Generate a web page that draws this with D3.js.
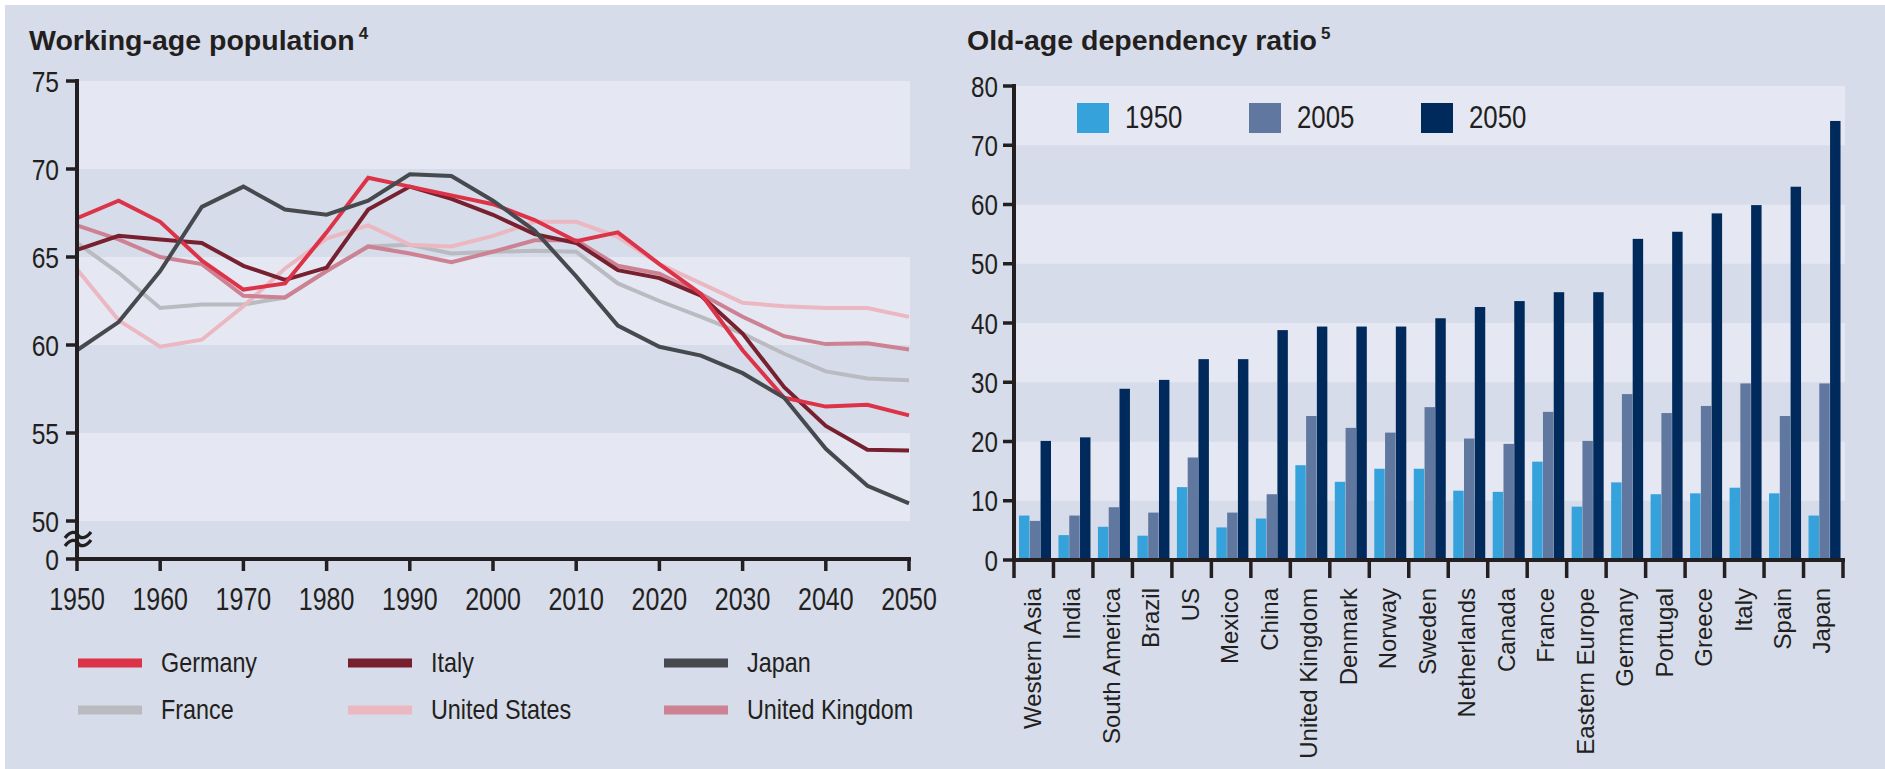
<!DOCTYPE html>
<html><head><meta charset="utf-8">
<script src="https://cdn.jsdelivr.net/npm/d3@7"></script>
<style>
html,body{margin:0;padding:0;background:#fff;}
svg{display:block;}
</style></head>
<body>
<script>
// ---------- DATA ----------
const years = [1950,1955,1960,1965,1970,1975,1980,1985,1990,1995,2000,2005,2010,2015,2020,2025,2030,2035,2040,2045,2050];
const germany = [67.2,68.2,67.0,64.8,63.15,63.5,66.4,69.5,69.0,68.5,68.0,67.1,65.9,66.4,64.6,62.9,59.7,57.0,56.5,56.6,56.0];
const italy   = [65.4,66.2,66.0,65.8,64.5,63.7,64.4,67.7,69.0,68.3,67.4,66.3,65.8,64.25,63.8,62.8,60.65,57.6,55.4,54.05,54.0];
const japan   = [59.7,61.3,64.2,67.85,69.0,67.7,67.4,68.2,69.7,69.6,68.2,66.5,63.9,61.1,59.9,59.4,58.4,57.0,54.1,52.0,51.0];
const france  = [65.8,64.1,62.1,62.3,62.3,62.7,64.2,65.6,65.7,65.2,65.3,65.35,65.3,63.5,62.5,61.6,60.65,59.5,58.5,58.1,58.0];
const unitedStates = [64.3,61.4,59.9,60.3,62.2,64.35,66.05,66.8,65.7,65.6,66.2,67.0,67.0,66.15,64.6,63.5,62.4,62.2,62.1,62.1,61.6];
const unitedKingdom = [66.8,66.0,65.0,64.6,62.8,62.7,64.2,65.6,65.2,64.7,65.3,65.95,65.95,64.5,64.05,62.9,61.6,60.5,60.05,60.1,59.75];
const lineNames = ["Germany","Italy","Japan","France","United States","United Kingdom"];
const lineColors = ["#dc3348","#77202f","#464a4e","#b9bbc0","#ebb8c2","#cd8294"];
const leftYTicks = [50,55,60,65,70,75];
const leftXTicks = [1950,1960,1970,1980,1990,2000,2010,2020,2030,2040,2050];

const categories = ["Western Asia","India","South America","Brazil","US","Mexico","China","United Kingdom","Denmark","Norway","Sweden","Netherlands","Canada","France","Eastern Europe","Germany","Portugal","Greece","Italy","Spain","Japan"];
const ratio1950 = [7.5,4.2,5.6,4.1,12.3,5.5,7.0,16.0,13.2,15.4,15.4,11.7,11.5,16.6,9.0,13.1,11.1,11.25,12.2,11.25,7.5];
const ratio2005 = [6.6,7.5,8.9,8.0,17.3,8.0,11.1,24.3,22.3,21.5,25.8,20.5,19.6,25.0,20.1,28.0,24.8,26.0,29.8,24.3,29.8];
const ratio2050 = [20.1,20.7,28.9,30.4,33.9,33.9,38.8,39.4,39.4,39.4,40.8,42.7,43.7,45.2,45.2,54.2,55.4,58.5,59.9,63.0,74.1];
const barYears = ["1950","2005","2050"];
const barColors = ["#35a2dc","#60779f","#002a5c"];
const rightYTicks = [0,10,20,30,40,50,60,70,80];

// ---------- STYLE ----------
const BG = "#d6dce9", LIGHT = "#e5e8f2", INK = "#231f20";
const SANS = "'Liberation Sans',Arimo,Arial,sans-serif";
const SQX = 0.82; // horizontal squeeze to imitate a condensed face

const W = 1885, H = 769;
const svg = d3.select("body").append("svg").attr("width", W).attr("height", H);
svg.append("rect").attr("width", W).attr("height", H).attr("fill", "#fff");
svg.append("rect").attr("x", 5).attr("y", 5).attr("width", W - 5).attr("height", H - 5).attr("fill", BG);

function ctext(g, x, y, str, size, anchor, dy) {
  return g.append("text").attr("transform", `translate(${x},${y}) scale(${SQX},1)`)
    .attr("dy", dy || 0).attr("text-anchor", anchor || "start")
    .attr("font-family", SANS).attr("font-size", size).attr("fill", INK).text(str);
}

// ================= LEFT CHART =================
const xL = d3.scaleLinear().domain([1950, 2050]).range([77, 909]);
const yL = d3.scaleLinear().domain([50, 75]).range([521, 81]);
const zeroY = 559;
const gL = svg.append("g");

for (let i = 0; i < leftYTicks.length - 1; i++) {
  const lo = leftYTicks[i], hi = leftYTicks[i + 1];
  const light = ((75 - hi) / 5) % 2 === 0;
  gL.append("rect").attr("x", xL(1950)).attr("width", 910 - xL(1950))
    .attr("y", yL(hi)).attr("height", yL(lo) - yL(hi))
    .attr("fill", light ? LIGHT : BG);
}

const tL = gL.append("text").attr("x", 29).attr("y", 50)
  .attr("font-family", SANS).attr("font-weight", "bold").attr("font-size", 28.5).attr("fill", INK)
  .text("Working-age population");
tL.append("tspan").attr("dx", 4).attr("dy", -11).attr("font-size", 17).text("4");

const seriesL = [france, unitedStates, unitedKingdom, italy, germany, japan];
const colorL = [lineColors[3], lineColors[4], lineColors[5], lineColors[1], lineColors[0], lineColors[2]];
const line = d3.line().x((d, i) => xL(years[i])).y(d => yL(d));
seriesL.forEach((s, k) => {
  gL.append("path").datum(s).attr("d", line).attr("fill", "none")
    .attr("stroke", colorL[k]).attr("stroke-width", 4).attr("stroke-linejoin", "miter");
});

gL.append("line").attr("x1", 77).attr("x2", 77).attr("y1", yL(75) - 2).attr("y2", zeroY + 2)
  .attr("stroke", INK).attr("stroke-width", 4);
const yTickVals = leftYTicks.map(v => ({v, y: yL(v)})).concat([{v: 0, y: zeroY}]);
yTickVals.forEach(t => {
  gL.append("line").attr("x1", 66).attr("x2", 77).attr("y1", t.y).attr("y2", t.y)
    .attr("stroke", INK).attr("stroke-width", 3.5);
  ctext(gL, 59, t.y, t.v, 30, "end", "0.36em");
});
[535, 543].forEach(yy => {
  gL.append("path")
    .attr("d", `M65,${yy + 3} C70,${yy - 4} 76,${yy - 4} 78,${yy} S86,${yy + 4} 91,${yy - 3}`)
    .attr("fill", "none").attr("stroke", INK).attr("stroke-width", 3.2);
});

gL.append("line").attr("x1", 75).attr("x2", 911).attr("y1", zeroY).attr("y2", zeroY)
  .attr("stroke", INK).attr("stroke-width", 4);
leftXTicks.forEach(yr => {
  gL.append("line").attr("x1", xL(yr)).attr("x2", xL(yr)).attr("y1", zeroY).attr("y2", zeroY + 12)
    .attr("stroke", INK).attr("stroke-width", 3.5);
  ctext(gL, xL(yr), 610, yr, 30.5, "middle");
});

const legCols = [78, 348, 664], legRows = [663, 710];
lineNames.forEach((n, i) => {
  const cx = legCols[i % 3], cy = legRows[Math.floor(i / 3)];
  gL.append("rect").attr("x", cx).attr("y", cy - 4.5).attr("width", 64).attr("height", 9).attr("fill", lineColors[i]);
  ctext(gL, cx + 83, cy + 9, n, 28.5, "start");
});

// ================= RIGHT CHART =================
const gR = svg.append("g");
const x0 = d3.scaleBand().domain(categories).range([1014, 1843]).padding(0);
const x1 = d3.scaleBand().domain(barYears).range([5, 37]).paddingInner(0.03);
const yR = d3.scaleLinear().domain([0, 80]).range([560, 86]);

for (let i = 0; i < rightYTicks.length - 1; i++) {
  const lo = rightYTicks[i], hi = rightYTicks[i + 1];
  const light = ((80 - hi) / 10) % 2 === 0;
  gR.append("rect").attr("x", 1014).attr("width", 1845 - 1014)
    .attr("y", yR(hi)).attr("height", yR(lo) - yR(hi)).attr("fill", light ? LIGHT : BG);
}

const tR = gR.append("text").attr("x", 967).attr("y", 50)
  .attr("font-family", SANS).attr("font-weight", "bold").attr("font-size", 28.5).attr("fill", INK)
  .text("Old-age dependency ratio");
tR.append("tspan").attr("dx", 4).attr("dy", -11).attr("font-size", 17).text("5");

const barSeries = [ratio1950, ratio2005, ratio2050];
categories.forEach((c, i) => {
  barYears.forEach((yr, k) => {
    const v = barSeries[k][i];
    gR.append("rect").attr("x", x0(c) + x1(yr)).attr("width", x1.bandwidth())
      .attr("y", yR(v)).attr("height", yR(0) - yR(v)).attr("fill", barColors[k]);
  });
});

const legX = [1077, 1249, 1421];
barYears.forEach((yr, k) => {
  gR.append("rect").attr("x", legX[k]).attr("y", 103).attr("width", 32).attr("height", 30).attr("fill", barColors[k]);
  ctext(gR, legX[k] + 48, 128, yr, 31.5, "start");
});

gR.append("line").attr("x1", 1014).attr("x2", 1014).attr("y1", yR(80) - 2).attr("y2", yR(0) + 2)
  .attr("stroke", INK).attr("stroke-width", 4);
rightYTicks.forEach(v => {
  gR.append("line").attr("x1", 1003).attr("x2", 1014).attr("y1", yR(v)).attr("y2", yR(v))
    .attr("stroke", INK).attr("stroke-width", 3.5);
  ctext(gR, 998, yR(v), v, 29.5, "end", "0.36em");
});

gR.append("line").attr("x1", 1012).attr("x2", 1845).attr("y1", yR(0)).attr("y2", yR(0))
  .attr("stroke", INK).attr("stroke-width", 4);
const boundaries = categories.map(c => x0(c)).concat([x0.range()[1]]);
boundaries.forEach(bx => {
  gR.append("line").attr("x1", bx).attr("x2", bx).attr("y1", yR(0)).attr("y2", 578)
    .attr("stroke", INK).attr("stroke-width", 3.5);
});
categories.forEach(c => {
  const cx = x0(c) + x0.bandwidth() / 2;
  gR.append("text").attr("transform", `translate(${cx},588) rotate(-90)`)
    .attr("dy", "0.3em").attr("text-anchor", "end")
    .attr("font-family", SANS).attr("font-size", 24).attr("fill", INK).text(c);
});
</script>
</body></html>
